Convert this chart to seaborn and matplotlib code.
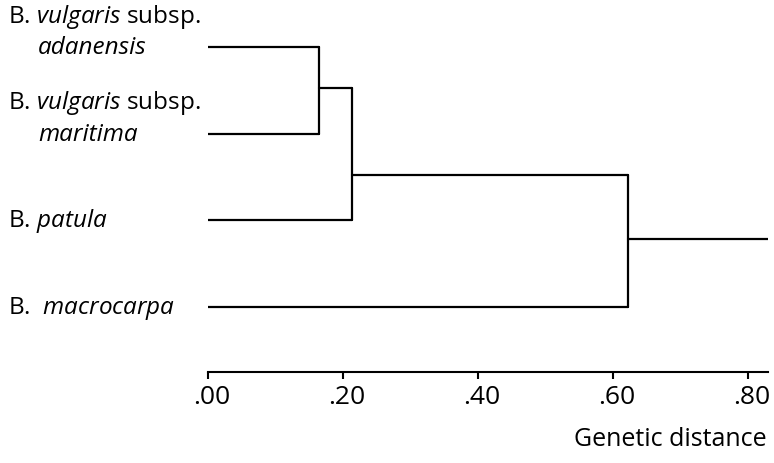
import pandas as pd
import matplotlib
import matplotlib.pyplot as plt
import matplotlib.transforms as mtransforms
import seaborn as sns

# leaves (top to bottom) and the joins of the tree
leaf_names = ["adanensis", "maritima", "patula", "macrocarpa"]
leaf_pos = [0, 1, 2, 3]
leaf_line1 = [r"B. $\mathit{vulgaris}$ subsp.", r"B. $\mathit{vulgaris}$ subsp.",
              r"B. $\mathit{patula}$", r"B.  $\mathit{macrocarpa}$"]
leaf_line2 = ["adanensis", "maritima", None, None]

node_names = ["n1", "n2", "n3"]
node_left = ["adanensis", "n1", "n2"]
node_right = ["maritima", "patula", "macrocarpa"]
node_height = [0.165, 0.213, 0.622]
node_pos = [0.47, 1.48, 2.215]
root_end = 0.83

tick_vals = [0.0, 0.2, 0.4, 0.6, 0.8]
tick_labels = [".00", ".20", ".40", ".60", ".80"]

# build segments of the dendrogram
ypos = dict(zip(leaf_names, leaf_pos))
hgt = {name: 0.0 for name in leaf_names}
ypos.update(zip(node_names, node_pos))
hgt.update(zip(node_names, node_height))

rows = []
seg = 0
for name, l, r in zip(node_names, node_left, node_right):
    h = hgt[name]
    for child in (l, r):
        rows += [(seg, hgt[child], ypos[child]), (seg, h, ypos[child])]
        seg += 1
    rows += [(seg, h, ypos[l]), (seg, h, ypos[r])]
    seg += 1
rows += [(seg, hgt[node_names[-1]], ypos[node_names[-1]]), (seg, root_end, ypos[node_names[-1]])]
df = pd.DataFrame(rows, columns=["seg", "x", "y"])

sns.set_style("white")
plt.rcParams["font.family"] = ["Open Sans", "DejaVu Sans"]
plt.rcParams["mathtext.fontset"] = "custom"
plt.rcParams["mathtext.it"] = "Open Sans:italic"
plt.rcParams["mathtext.rm"] = "Open Sans"
plt.rcParams["text.color"] = "black"
plt.rcParams["xtick.labelcolor"] = "black"

fig = plt.figure(figsize=(7.74, 4.64), dpi=100)
ax = fig.add_axes([208 / 774, 91 / 464, 560 / 774, 342.3 / 464])

sns.lineplot(data=df, x="x", y="y", units="seg", estimator=None, sort=False,
             color="black", linewidth=1.6, ax=ax)

ax.set_xlim(0, root_end)
ax.set_ylim(3.75, -0.2)
ax.set_xticks(tick_vals)
ax.set_xticklabels(tick_labels, fontsize=19)
ax.set_yticks([])
ax.set_xlabel("")
ax.set_ylabel("")
for s in ["left", "top", "right"]:
    ax.spines[s].set_visible(False)
ax.spines["bottom"].set_linewidth(1.5)
ax.spines["bottom"].set_color("black")
ax.tick_params(axis="x", bottom=True, direction="out", length=5, width=1.5,
               color="black", pad=4)
offset = mtransforms.ScaledTranslation(4 / 100, 0, fig.dpi_scale_trans)
for lab in ax.get_xticklabels():
    lab.set_transform(lab.get_transform() + offset)

# leaf labels
trans = mtransforms.blended_transform_factory(fig.transFigure, ax.transData)
for y, l1, l2 in zip(leaf_pos, leaf_line1, leaf_line2):
    if l2 is None:
        ax.text(8 / 774, y, l1, transform=trans, ha="left", va="center", fontsize=17.5)
    else:
        ax.text(8 / 774, y - 0.36, l1, transform=trans, ha="left", va="center", fontsize=17.5)
        ax.text(38 / 774, y, l2, transform=trans, ha="left", va="center",
                fontsize=17.5, style="italic")

fig.text(767 / 774, 1 - 440 / 464, "Genetic distance", ha="right", va="center", fontsize=18)

fig.savefig("out.png", dpi=100)
